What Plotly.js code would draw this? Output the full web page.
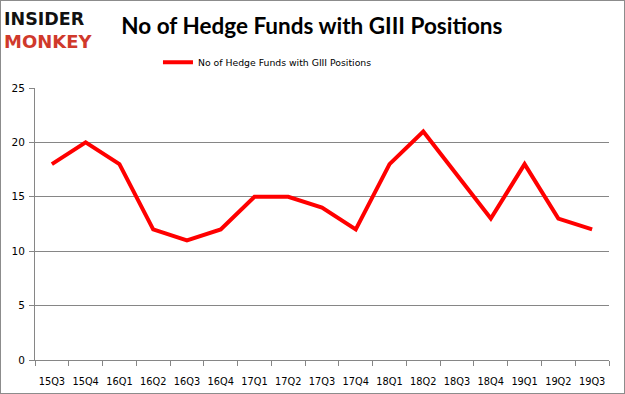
<!DOCTYPE html>
<html>
<head>
<meta charset="utf-8">
<script src="https://cdn.plot.ly/plotly-3.0.1.min.js"></script>
<style>
html,body{margin:0;padding:0;background:#fff;}
#chart{width:625px;height:394px;box-sizing:border-box;border:1px solid #8c8c8c;}
</style>
</head>
<body>
<div id="chart"></div>
<script>
const quarters = ["15Q3","15Q4","16Q1","16Q2","16Q3","16Q4","17Q1","17Q2","17Q3","17Q4","18Q1","18Q2","18Q3","18Q4","19Q1","19Q2","19Q3"];
const hedgeFunds = [18,20,18,12,11,12,15,15,14,12,18,21,17,13,18,13,12];
const seriesName = "No of Hedge Funds with GIII Positions";
const yTicks = [0,5,10,15,20,25];

const trace = {
  x: quarters,
  y: hedgeFunds,
  type: "scatter",
  mode: "lines",
  name: seriesName,
  line: {color: "#ff0000", width: 4}
};

const layout = {
  width: 623, height: 392,
  margin: {l: 34, r: 15, t: 87, b: 33},
  paper_bgcolor: "#fff",
  plot_bgcolor: "#fff",
  showlegend: true,
  legend: {
    orientation: "h", x: 0.405, xanchor: "center", y: 1.095, yanchor: "middle",
    font: {family: "DejaVu Sans", size: 9.3, color: "#000"},
    itemwidth: 30
  },
  title: {
    text: "No of Hedge Funds with GIII Positions",
    font: {family: "Lato", size: 22.5, color: "#000", weight: "bold"},
    x: 0.499, xanchor: "center", y: 0.935, yanchor: "middle"
  },
  xaxis: {
    type: "category",
    range: [-0.5, 16.5],
    tickson: "boundaries",
    tickangle: 0,
    ticks: "outside", ticklen: 5, tickcolor: "#868686",
    ticklabelstandoff: 12,
    showline: true, linecolor: "#868686", linewidth: 1,
    showgrid: false,
    tickfont: {family: "DejaVu Sans", size: 9.8, color: "#000"},
    fixedrange: true
  },
  yaxis: {
    range: [0, 25],
    tickvals: yTicks,
    ticks: "outside", ticklen: 5, tickcolor: "#868686",
    ticklabelstandoff: 2,
    showline: true, linecolor: "#868686", linewidth: 1,
    gridcolor: "#868686", gridwidth: 1,
    zeroline: false,
    tickfont: {family: "DejaVu Sans", size: 10.5, color: "#000"},
    fixedrange: true
  },
  annotations: [
    {text: "INSIDER", xref: "paper", yref: "paper", x: -0.058, y: 1.254, xanchor: "left", yanchor: "middle",
     showarrow: false, font: {family: "DejaVu Sans", size: 17.5, color: "#111", weight: "bold"}},
    {text: "MONKEY", xref: "paper", yref: "paper", x: -0.058, y: 1.172, xanchor: "left", yanchor: "middle",
     showarrow: false, font: {family: "DejaVu Sans", size: 18, color: "#d0392b", weight: "bold"}}
  ]
};

Plotly.newPlot("chart", [trace], layout, {displayModeBar: false, staticPlot: true});
</script>
</body>
</html>
